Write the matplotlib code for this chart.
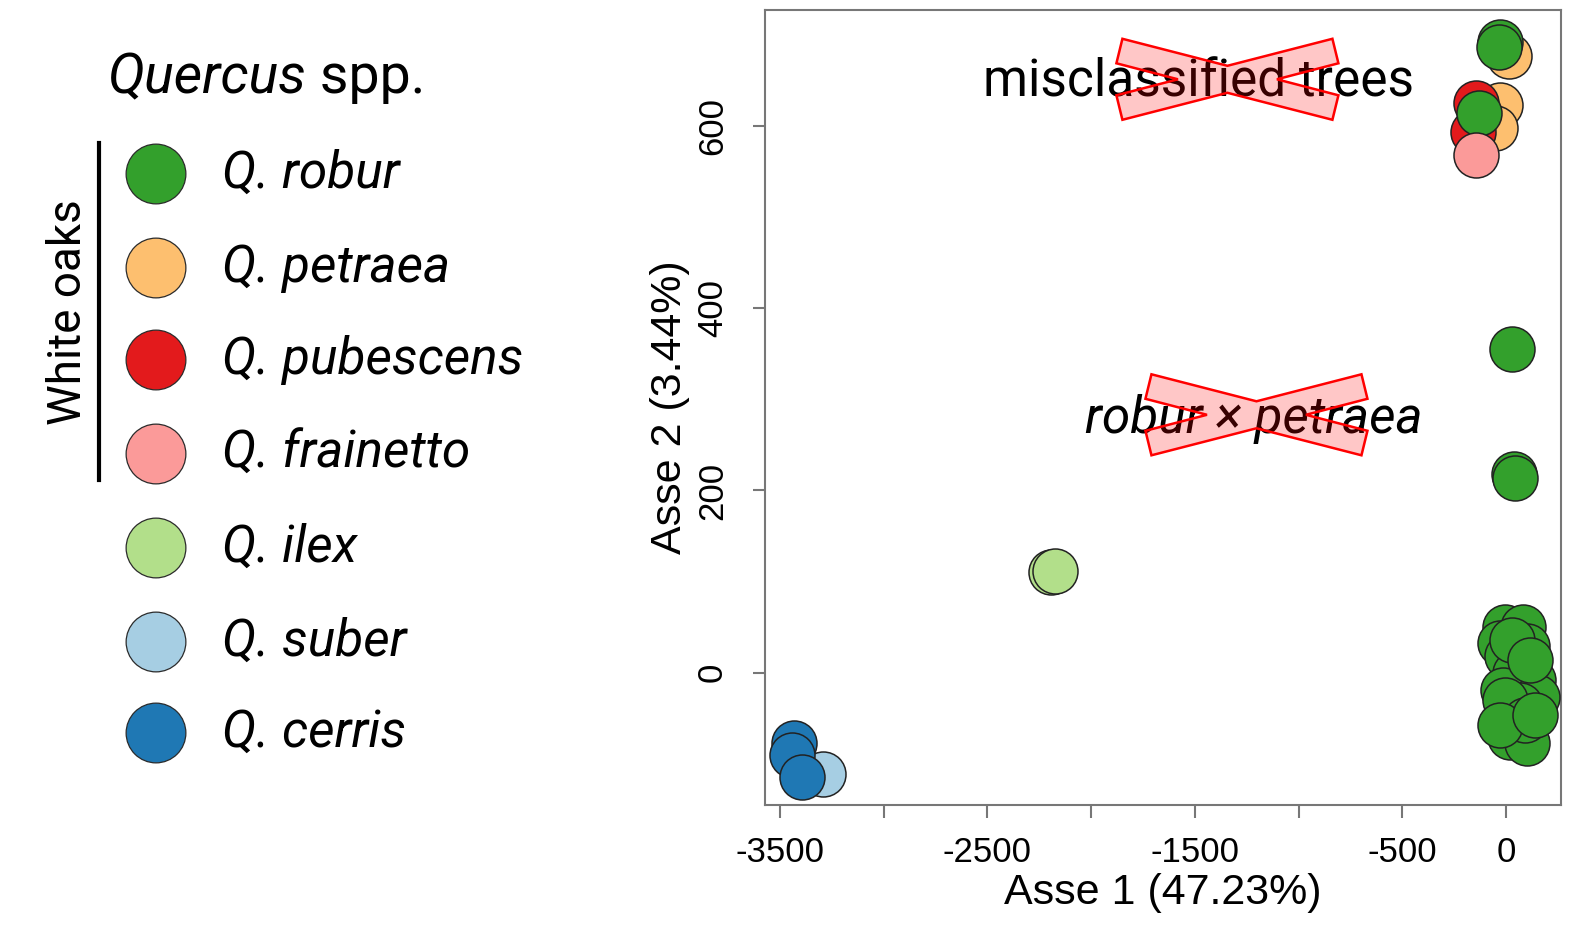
import numpy as np
import matplotlib
matplotlib.use("Agg")
import matplotlib.pyplot as plt
from matplotlib.patches import Polygon
from matplotlib.transforms import IdentityTransform

# specie e colori (ColorBrewer Paired)
species = ['Q. robur', 'Q. petraea', 'Q. pubescens', 'Q. frainetto', 'Q. ilex', 'Q. suber', 'Q. cerris']
colors = ['#33a02c', '#fdbf6f', '#e31a1c', '#fb9a99', '#b2df8a', '#a6cee3', '#1f78b4']

# coordinate PCoA
robur_x = [-29, -34, -130, 29, 39, 43,
           -5, 82, -29, 101, 5, 68, 43, 130, -14, 149, 68, 19, 19, 101,
           29, 116, -5, 92, -29, 140]
robur_y = [692, 686, 614, 355, 218, 214,
           50, 50, 33, 29, 18, 7, 0, -8, -19, -26, -35, -44, -70, -77,
           36, 14, -30, -52, -57, -46]
petraea_x = [14, -29, -53]
petraea_y = [676, 623, 598]
pubescens_x = [-145, -159]
pubescens_y = [625, 593]
frainetto_x = [-145]
frainetto_y = [568]
ilex_x = [-2194, -2175]
ilex_y = [111, 112]
suber_x = [-3293]
suber_y = [-111]
cerris_x = [-3433, -3443, -3394]
cerris_y = [-77, -90, -114]

data = {
    'Q. suber': (suber_x, suber_y),
    'Q. cerris': (cerris_x, cerris_y),
    'Q. ilex': (ilex_x, ilex_y),
    'Q. petraea': (petraea_x, petraea_y),
    'Q. pubescens': (pubescens_x, pubescens_y),
    'Q. robur': (robur_x, robur_y),
    'Q. frainetto': (frainetto_x, frainetto_y),
}

xticks = np.arange(-3500, 1, 500)
xticklabels = ['-3500', '', '-2500', '', '-1500', '', '-500', '0']
yticks = [0, 200, 400, 600]

W, H = 1575, 925
fig = plt.figure(figsize=(W / 100, H / 100), dpi=100)
narrow = ['Liberation Sans Narrow', 'Liberation Sans', 'DejaVu Sans']
roboto = ['Roboto', 'DejaVu Sans']

# --- grafico principale ---
ax = fig.add_axes([765 / W, 1 - 805 / H, 796 / W, 795 / H])
col = dict(zip(species, colors))
for sp, (xs, ys) in data.items():
    ax.scatter(xs, ys, s=1050, c=col[sp], edgecolors='#222222', linewidths=1.1, zorder=3)

ax.set_xlim(-3572, 265)
ax.set_ylim(-145, 727)
ax.set_xticks(xticks)
ax.set_xticklabels(xticklabels, family=narrow, fontsize=25)
ax.set_yticks(yticks)
ax.set_yticklabels([str(v) for v in yticks], family=narrow, fontsize=25)
for lab in ax.get_yticklabels():
    lab.set_rotation(90)
    lab.set_va('center')
ax.tick_params(axis='both', direction='out', length=9, width=1.5, color='#777777')
ax.tick_params(axis='x', pad=13)
ax.tick_params(axis='y', pad=17)
for s in ax.spines.values():
    s.set_color('#777777')
    s.set_linewidth(1.5)
ax.set_xlabel('Asse 1 (47.23%)', family=narrow, fontsize=31, labelpad=3)
ax.set_ylabel('Asse 2 (3.44%)', family=narrow, fontsize=31, labelpad=4)

# etichette barrate
ax.text(-1480, 648, 'misclassified trees', family=roboto, fontsize=37,
        ha='center', va='center', zorder=4)
ax.text(-1215, 278, 'robur \u00d7 petraea', family=roboto, style='italic', fontsize=37,
        ha='center', va='center', zorder=4)

# forma della X (offset in pixel dal centro)
x_shape = np.array([(-105, 40.5), (0, 13.5), (105, 40.5), (111, 16), (49.5, 0),
                    (111, -16), (105, -40.5), (0, -13.5), (-105, -40.5),
                    (-111, -16), (-49.5, 0), (-111, 16)])
cross_centers = [(-1343, 651), (-1203, 283)]
for cx, cy in cross_centers:
    c = ax.transData.transform((cx, cy))
    fig.add_artist(Polygon(x_shape + c, closed=True, facecolor=(1, 0, 0, 0.22),
                           edgecolor='#ff0000', linewidth=1.8,
                           transform=IdentityTransform(), zorder=10))

# --- legenda a sinistra ---
lax = fig.add_axes([0, 0, 1, 1])
lax.set_xlim(0, W)
lax.set_ylim(H, 0)
lax.axis('off')
leg_y = [174, 268, 360, 454, 548, 642, 733]
lax.scatter([156] * len(species), leg_y, s=1850, c=colors, edgecolors='#2b2b2b', linewidths=0.9)
for lab, yy in zip(species, leg_y):
    lax.text(222, yy, lab, family=roboto, style='italic', fontsize=37, va='center', ha='left')

t1 = lax.text(107, 78, 'Quercus', family=roboto, style='italic', fontsize=40, va='center', ha='left')
lax.annotate(' spp.', xy=(1, 0), xycoords=t1, va='bottom', ha='left', family=roboto, fontsize=40)
lax.plot([99, 99], [143, 480], color='black', lw=3)
lax.text(68, 312, 'White oaks', family=roboto, fontsize=33, rotation=90, va='center', ha='center')

fig.savefig('out.png', dpi=100)
